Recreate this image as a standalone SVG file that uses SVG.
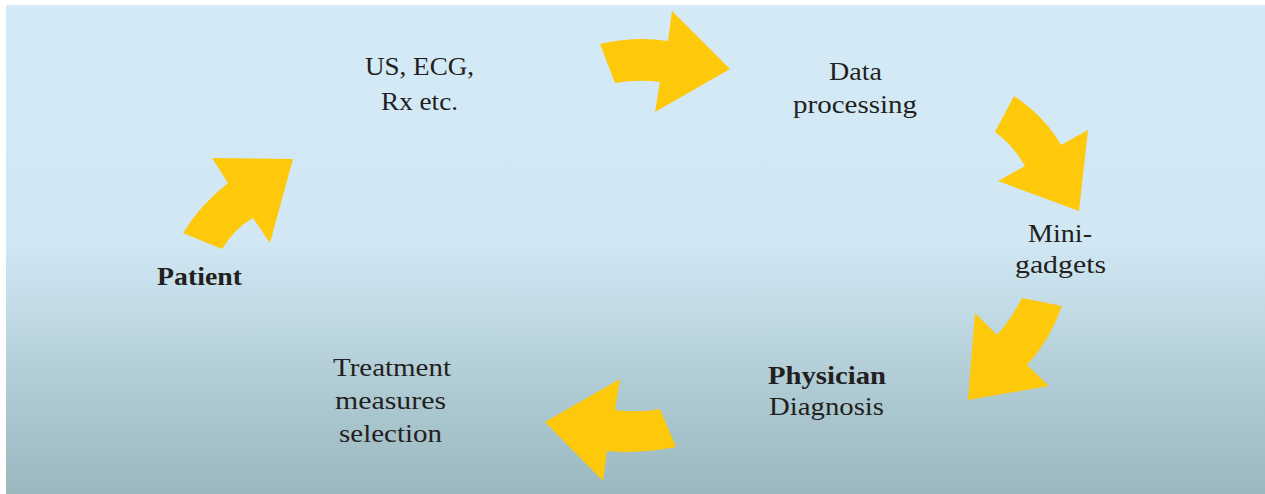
<svg xmlns="http://www.w3.org/2000/svg" width="1265" height="494" viewBox="0 0 1265 494">
<defs>
<linearGradient id="bg" x1="0" y1="5" x2="0" y2="494" gradientUnits="userSpaceOnUse">
<stop offset="0" stop-color="#d4eaf7"/>
<stop offset="0.48" stop-color="#d1e8f4"/>
<stop offset="0.62" stop-color="#c2dbe5"/>
<stop offset="0.8" stop-color="#adc9d1"/>
<stop offset="1" stop-color="#9bb8bf"/>
</linearGradient>
<style>
.arrow{fill:#ffc90b;stroke:none}
.t{font-family:"Liberation Serif","Times New Roman",serif;font-size:26px;fill:#231f20;text-anchor:middle}
.b{font-weight:bold}
</style>
</defs>
<rect width="1265" height="494" fill="#ffffff"/>
<rect x="6" y="5" width="1259" height="489" fill="url(#bg)"/>
<g id="connectors">
<path class="arrow" d="M183,233 Q200,205 228,183 L212,158 L293,159 L270,243 L253,218 Q235,228 222,249 Z"/>
<path class="arrow" d="M600,44 Q635,36 668,41 L672,11 L730,69 L655,112 L660,82 Q637,79 615,83 Z"/>
<path class="arrow" d="M1014,96 Q1045,117 1061,145 L1088,130 L1079,211 L998,181 L1025,166 Q1013,145 995,132 Z"/>
<path class="arrow" d="M1062,306 Q1050,340 1027,365 L1049,386 L968,400 L975,313 L997,335 Q1012,318 1022,298 Z"/>
<path class="arrow" d="M676,447 Q640,454 607,451 L603,481 L545,422 L620,379 L615,410 Q640,413 660,409 Z"/>
</g>
<g id="patient"><text class="t b" x="199.5" y="285" textLength="85" lengthAdjust="spacingAndGlyphs">Patient</text></g>
<g id="imaging">
<text class="t" x="419.5" y="75" textLength="109" lengthAdjust="spacingAndGlyphs">US, ECG,</text>
<text class="t" x="419.5" y="110" textLength="77" lengthAdjust="spacingAndGlyphs">Rx etc.</text>
</g>
<g id="data-processing">
<text class="t" x="855.5" y="80" textLength="53" lengthAdjust="spacingAndGlyphs">Data</text>
<text class="t" x="855" y="113" textLength="124" lengthAdjust="spacingAndGlyphs">processing</text>
</g>
<g id="mini-gadgets">
<text class="t" x="1060" y="242" textLength="64" lengthAdjust="spacingAndGlyphs">Mini-</text>
<text class="t" x="1060.5" y="273" textLength="91" lengthAdjust="spacingAndGlyphs">gadgets</text>
</g>
<g id="physician-diagnosis">
<text class="t b" x="827" y="384" textLength="118" lengthAdjust="spacingAndGlyphs">Physician</text>
<text class="t" x="826.5" y="415" textLength="115" lengthAdjust="spacingAndGlyphs">Diagnosis</text>
</g>
<g id="treatment">
<text class="t" x="392" y="376" textLength="118" lengthAdjust="spacingAndGlyphs">Treatment</text>
<text class="t" x="390.5" y="409" textLength="111" lengthAdjust="spacingAndGlyphs">measures</text>
<text class="t" x="390.5" y="442" textLength="103" lengthAdjust="spacingAndGlyphs">selection</text>
</g>
</svg>
